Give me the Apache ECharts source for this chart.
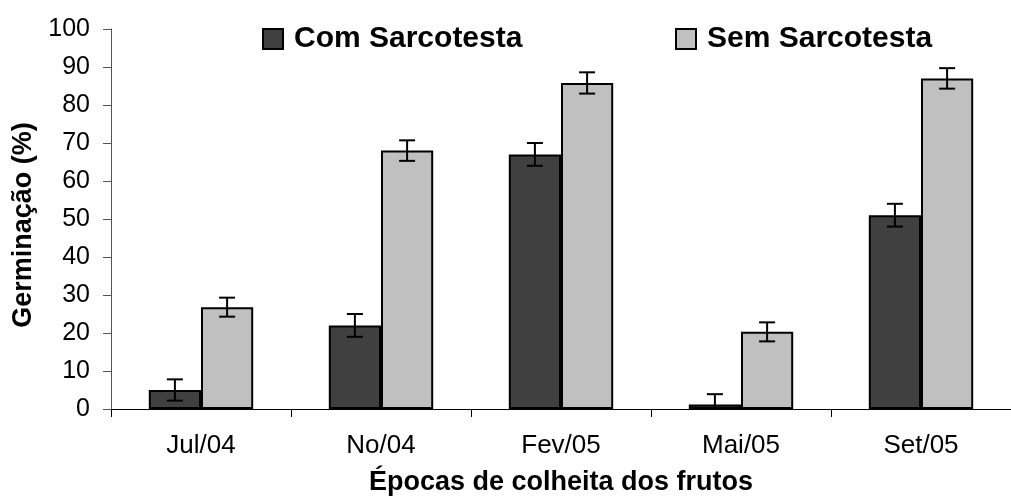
<!DOCTYPE html>
<html>
<head>
<meta charset="utf-8">
<script src="https://cdn.jsdelivr.net/npm/echarts@6/dist/echarts.min.js"></script>
<style>
html,body{margin:0;padding:0;background:#fff;}
#chart{width:1011px;height:501px;}
</style>
</head>
<body>
<div id="chart"></div>
<script>
const categories = ['Jul/04', 'No/04', 'Fev/05', 'Mai/05', 'Set/05'];
const comSarcotesta = [5, 22, 67, 1.2, 51];
const semSarcotesta = [26.8, 68, 85.8, 20.3, 87];
const comErr = [2.8, 3, 3, 2.7, 3];
const semErr = [2.5, 2.7, 2.8, 2.5, 2.7];
const yTicks = [0, 100, 10];

const FONT = "'Liberation Sans', Arial, sans-serif";
const BAR_W = 0.29;

function errData(vals, errs) {
  return vals.map((v, i) => [i, v, errs[i]]);
}
function makeErr(sign) {
  return function (params, api) {
    const ci = api.value(0), v = api.value(1), e = api.value(2);
    const band = api.size([1, 0])[0];
    const x = api.coord([ci, v])[0] + sign * band * BAR_W / 2;
    const top = api.coord([ci, v + e])[1];
    const bot = api.coord([ci, Math.max(0, v - e)])[1];
    const cap = 8;
    const st = { stroke: '#000', lineWidth: 2 };
    return {
      type: 'group',
      children: [
        { type: 'line', shape: { x1: x, y1: top, x2: x, y2: bot }, style: st },
        { type: 'line', shape: { x1: x - cap, y1: top, x2: x + cap, y2: top }, style: st },
        { type: 'line', shape: { x1: x - cap, y1: bot, x2: x + cap, y2: bot }, style: st }
      ]
    };
  };
}

const chart = echarts.init(document.getElementById('chart'), null, { renderer: 'canvas' });
const legendText = { fontFamily: FONT, fontSize: 30, fontWeight: 'bold', color: '#000', padding: [0, 0, 0, 6] };
chart.setOption({
  animation: false,
  backgroundColor: '#fff',
  textStyle: { fontFamily: FONT },
  grid: { left: 111, top: 29, width: 905, height: 382.5, containLabel: false },
  legend: [
    { data: ['Com Sarcotesta'], icon: 'rect', left: 262, top: 24, padding: 0, itemWidth: 20, itemHeight: 20, textStyle: legendText },
    { data: ['Sem Sarcotesta'], icon: 'rect', left: 675, top: 24, padding: 0, itemWidth: 20, itemHeight: 20, textStyle: legendText }
  ],
  xAxis: {
    type: 'category',
    data: categories,
    name: 'Épocas de colheita dos frutos',
    nameLocation: 'middle',
    nameGap: 60,
    nameTextStyle: { fontFamily: FONT, fontSize: 27, fontWeight: 'bold', color: '#000' },
    axisLine: { lineStyle: { color: '#000', width: 1 } },
    axisTick: { show: true, length: 8, lineStyle: { color: '#000' } },
    axisLabel: { fontFamily: FONT, fontSize: 26, color: '#000', margin: 24 }
  },
  yAxis: {
    type: 'value',
    min: yTicks[0], max: yTicks[1], interval: yTicks[2],
    name: 'Germinação (%)',
    nameLocation: 'middle',
    nameGap: 72,
    nameTextStyle: { fontFamily: FONT, fontSize: 27, fontWeight: 'bold', color: '#000', padding: [0, 12, 0, 0] },
    axisLine: { show: true, lineStyle: { color: '#555', width: 1 } },
    axisTick: { show: true, length: 8, lineStyle: { color: '#555' } },
    splitLine: { show: false },
    axisLabel: { fontFamily: FONT, fontSize: 25, color: '#000', margin: 21 }
  },
  series: [
    {
      name: 'Com Sarcotesta', type: 'bar', data: comSarcotesta,
      barWidth: (BAR_W * 100) + '%', barGap: '0%',
      itemStyle: { color: '#404040', borderColor: '#000', borderWidth: 2 }
    },
    {
      name: 'Sem Sarcotesta', type: 'bar', data: semSarcotesta,
      barWidth: (BAR_W * 100) + '%', barGap: '0%',
      itemStyle: { color: '#c0c0c0', borderColor: '#000', borderWidth: 2 }
    },
    {
      type: 'custom', renderItem: makeErr(-1), data: errData(comSarcotesta, comErr),
      encode: { x: 0, y: 1 }, z: 10, silent: true
    },
    {
      type: 'custom', renderItem: makeErr(1), data: errData(semSarcotesta, semErr),
      encode: { x: 0, y: 1 }, z: 10, silent: true
    }
  ]
});
</script>
</body>
</html>
